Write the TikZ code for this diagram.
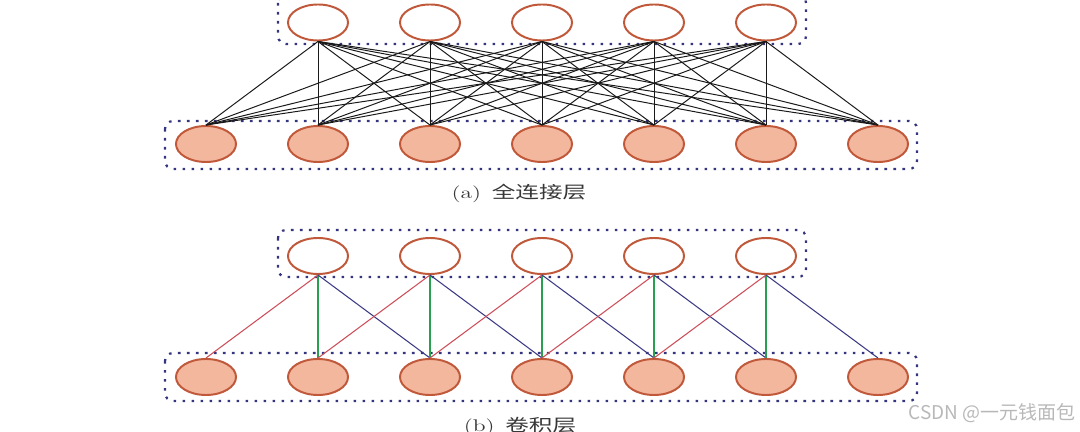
\documentclass[tikz,border=0pt]{standalone}
\usepackage{fontspec}
\newfontfamily\cjk{Noto Sans CJK SC}
\usetikzlibrary{shapes.geometric}
\definecolor{eline}{RGB}{192,88,58}
\definecolor{nfill}{RGB}{243,183,158}
\definecolor{dotc}{RGB}{52,52,128}
\definecolor{redl}{RGB}{205,78,88}
\definecolor{bluel}{RGB}{58,58,132}
\definecolor{greenl}{RGB}{40,160,80}
\definecolor{capc}{RGB}{55,55,55}
\begin{document}
\begin{tikzpicture}[x=0.025cm,y=-0.025cm,
  neuron/.style={ellipse, draw=eline, line width=1.4pt, minimum width=1.5cm, minimum height=0.9cm, inner sep=0pt},
  inneuron/.style={neuron, fill=nfill},
  outneuron/.style={neuron, fill=white},
  dotbox/.style={draw=dotc, line width=1.6pt, line cap=butt, dash pattern=on 1.8pt off 4.6pt, rounded corners=0.2cm},
  fullc/.style={black!90, line width=0.7pt},
  redc/.style={redl, line width=0.75pt},
  bluec/.style={bluel, line width=0.75pt},
  greenc/.style={greenl, line width=0.9pt},
  caption/.style={text=capc, inner sep=0pt, font=\fontsize{12}{14}\selectfont}
]
\useasboundingbox (0,0) rectangle (1080,432);
\clip (0,0) rectangle (1080,432);
% boxes
\draw[dotbox] (278,-5) rectangle (806,44);
\draw[dotbox] (165,121) rectangle (917,169);
\draw[dotbox] (278,230) rectangle (806,277);
\draw[dotbox] (165,353) rectangle (917,401);
% (a) nodes
\foreach \i in {0,...,4} \node[outneuron] (at\i) at ({318+112*\i},22.5) {};
\foreach \j in {0,...,6} \node[inneuron] (ab\j) at ({206+112*\j},144) {};
% (b) nodes
\foreach \i in {0,...,4} \node[outneuron] (bt\i) at ({318+112*\i},256) {};
\foreach \j in {0,...,6} \node[inneuron] (bb\j) at ({206+112*\j},377) {};
% full connections
\foreach \i in {0,...,4}
  \foreach \j in {0,...,6}
    \draw[fullc] (at\i.south) -- (ab\j.north);
% conv connections
\foreach \i in {0,...,4}{
  \pgfmathtruncatemacro\k{\i+1}
  \pgfmathtruncatemacro\m{\i+2}
  \draw[redc] (bt\i.south) -- (bb\i.north);
  \draw[greenc] (bt\i.south) -- (bb\k.north);
  \draw[bluec] (bt\i.south) -- (bb\m.north);
}
% captions
\node[caption] (capa) at (519,193) {\scalebox{1.4}[1]{(a)\hspace{0.45em}{\cjk 全连接层}}};
\node[caption] (capb) at (520,427) {\scalebox{1.4}[1]{(b)\hspace{0.45em}{\cjk 卷积层}}};
\node[anchor=east, inner sep=0pt, text=black!28, font=\cjk\fontsize{13.5}{16}\selectfont] (wm) at (1076,413) {CSDN @一元钱面包};
\end{tikzpicture}
\end{document}
